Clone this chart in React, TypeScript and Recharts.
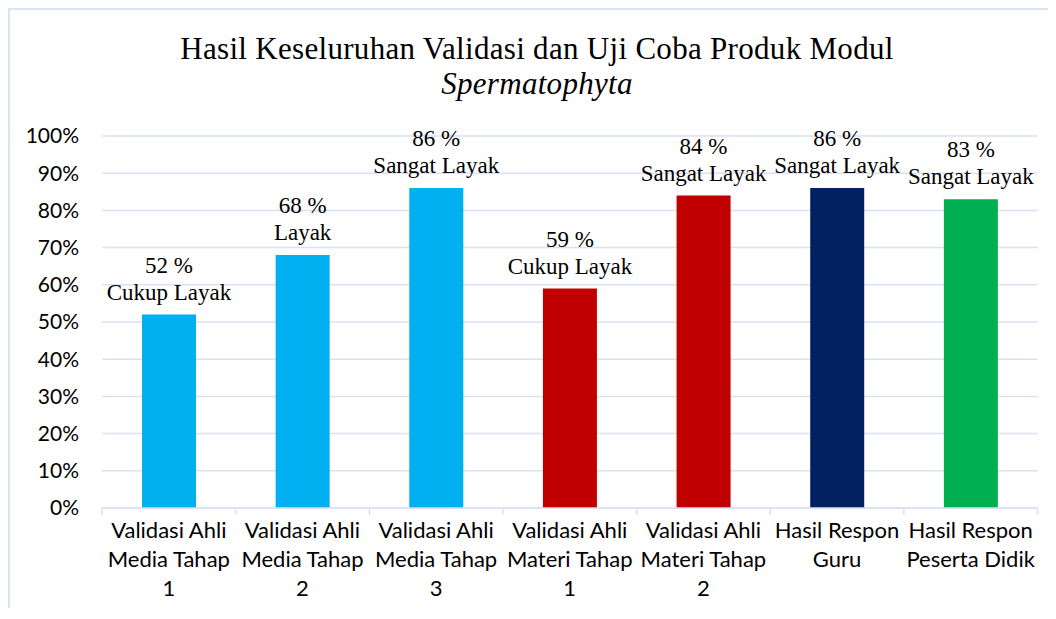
import { BarChart, Bar, XAxis, YAxis, CartesianGrid, Cell, LabelList } from 'recharts'

const categories = [
  'Validasi Ahli\nMedia Tahap\n1',
  'Validasi Ahli\nMedia Tahap\n2',
  'Validasi Ahli\nMedia Tahap\n3',
  'Validasi Ahli\nMateri Tahap\n1',
  'Validasi Ahli\nMateri Tahap\n2',
  'Hasil Respon\nGuru',
  'Hasil Respon\nPeserta Didik',
]
const values = [52, 68, 86, 59, 84, 86, 83]
const ratings = [
  'Cukup Layak',
  'Layak',
  'Sangat Layak',
  'Cukup Layak',
  'Sangat Layak',
  'Sangat Layak',
  'Sangat Layak',
]
const barColors = ['#00b0f0', '#00b0f0', '#00b0f0', '#c00000', '#c00000', '#002060', '#00b050']
const yTicks = [0, 10, 20, 30, 40, 50, 60, 70, 80, 90, 100]

const data = categories.map((name, i) => ({ name, value: values[i], rating: ratings[i] }))

const W = 1040
const H = 598
const MARGIN = { top: 126, right: 12.5, left: 22, bottom: 10 }
const Y_AXIS_W = 70
const X_AXIS_H = 90
const AXIS_Y = H - MARGIN.bottom - X_AXIS_H
const PLOT_W = W - MARGIN.left - MARGIN.right - Y_AXIS_W
const BAND = PLOT_W / categories.length

const GRID = '#d9e1f2'
const SERIF = "'Liberation Serif', 'Times New Roman', serif"
const SANS = "Lato, 'Open Sans', sans-serif"

const XTick = ({ x, payload, index }: any) => {
  const lines = String(payload.value).split('\n')
  const last = index === categories.length - 1
  return (
    <g>
      <line x1={x - BAND / 2} x2={x - BAND / 2} y1={AXIS_Y} y2={AXIS_Y + 7} stroke={GRID} strokeWidth={1.5} />
      {last && (
        <line x1={x + BAND / 2} x2={x + BAND / 2} y1={AXIS_Y} y2={AXIS_Y + 7} stroke={GRID} strokeWidth={1.5} />
      )}
      {lines.map((l, i) => (
        <text key={i} x={x} y={AXIS_Y + 30 + i * 29} textAnchor="middle" fontFamily={SANS} fontSize={22} fill="#000">
          {l}
        </text>
      ))}
    </g>
  )
}

const ValueLabel = ({ x, y, width, value }: any) => (
  <text x={x + width / 2} y={y - 42} textAnchor="middle" fontFamily={SERIF} fontSize={23} fill="#000">
    {value} %
  </text>
)

const RatingLabel = ({ x, y, width, value }: any) => (
  <text x={x + width / 2} y={y - 15} textAnchor="middle" fontFamily={SERIF} fontSize={23} fill="#000">
    {value}
  </text>
)

export default function App() {
  return (
    <div
      style={{
        position: 'relative',
        width: W,
        height: H,
        borderTop: '2px solid #dae3f3',
        borderLeft: '2px solid #dae3f3',
        background: '#fff',
      }}
    >
      <svg width={W} height={110} style={{ position: 'absolute', left: 0, top: 0 }}>
        <text x={527} y={49} textAnchor="middle" fontFamily={SERIF} fontSize={31} letterSpacing={0.3} fill="#000">
          Hasil Keseluruhan Validasi dan Uji Coba Produk Modul
        </text>
        <text
          x={527}
          y={84}
          textAnchor="middle"
          fontFamily={SERIF}
          fontSize={31}
          fontStyle="italic"
          letterSpacing={0.3}
          fill="#000"
        >
          Spermatophyta
        </text>
      </svg>
      <BarChart width={W} height={H} data={data} margin={MARGIN}>
        <CartesianGrid vertical={false} stroke={GRID} strokeWidth={1.5} />
        <XAxis
          dataKey="name"
          height={X_AXIS_H}
          interval={0}
          tickLine={false}
          axisLine={{ stroke: GRID, strokeWidth: 1.5 }}
          tick={<XTick />}
        />
        <YAxis
          width={Y_AXIS_W}
          domain={[0, 100]}
          ticks={yTicks}
          tickFormatter={(v) => `${v}%`}
          axisLine={false}
          tickLine={false}
          tickSize={6}
          tickMargin={17}
          tick={{ fontFamily: SANS, fontSize: 21, fill: '#000' }}
        />
        <Bar dataKey="value" barSize={54} isAnimationActive={false}>
          {data.map((d, i) => (
            <Cell key={d.name} fill={barColors[i]} />
          ))}
          <LabelList dataKey="value" content={<ValueLabel />} />
          <LabelList dataKey="rating" content={<RatingLabel />} />
        </Bar>
      </BarChart>
    </div>
  )
}
